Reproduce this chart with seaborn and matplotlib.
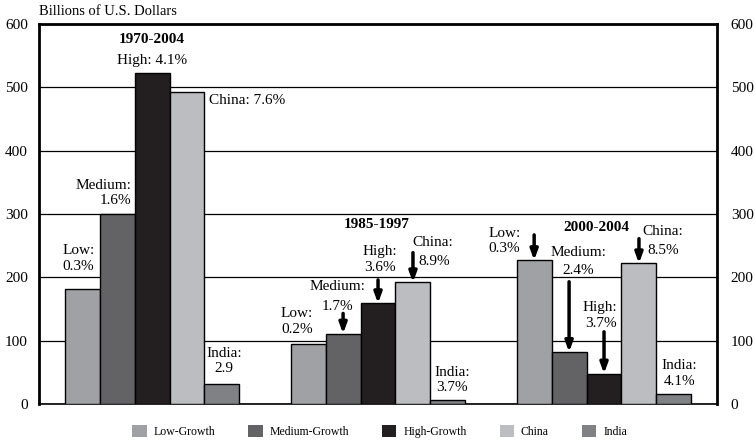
import pandas as pd
import seaborn as sns
import matplotlib.pyplot as plt
from matplotlib.patches import Patch

# data (billions of U.S. dollars)
periods = ["1970-2004", "1985-1997", "2000-2004"]
series = ["Low-Growth", "Medium-Growth", "High-Growth", "China", "India"]
low_growth = [181, 94, 227]
medium_growth = [300, 111, 82]
high_growth = [522, 159, 48]
china = [492, 192, 222]
india = [31, 7, 16]

colors = ["#a0a1a4", "#636366", "#231f20", "#bcbdc0", "#808184"]
yticks = [0, 100, 200, 300, 400, 500, 600]

# labels: (text, x, y, ha)
labels = [
	("High: 4.1%", 0.0, 542, "center"),
	("China: 7.6%", 0.252, 480, "left"),
	("Medium:\n1.6%", -0.09, 333, "right"),
	("Low:\n0.3%", -0.325, 230, "center"),
	("India:\n2.9", 0.319, 68, "center"),
	("High:\n3.6%", 1.01, 228, "center"),
	("China:", 1.151, 255, "left"),
	("8.9%", 1.178, 225, "left"),
	("Medium:", 0.819, 185, "center"),
	("1.7%", 0.819, 154, "center"),
	("Low:\n0.2%", 0.642, 130, "center"),
	("India:\n3.7%", 1.327, 38, "center"),
	("Low:\n0.3%", 1.63, 257, "right"),
	("Medium:", 1.887, 240, "center"),
	("2.4%", 1.887, 211, "center"),
	("High:\n3.7%", 2.058, 140, "right"),
	("China:", 2.169, 272, "left"),
	("8.5%", 2.191, 242, "left"),
	("India:\n4.1%", 2.334, 48, "center"),
]
titles = [("1970-2004", 0.0, 576), ("1985-1997", 0.995, 284), ("2000-2004", 1.965, 278)]

# arrows: (group index, series index, start y)
arrows = [
	(1, 2, 196), (1, 3, 239), (1, 1, 143),
	(2, 0, 267), (2, 1, 193), (2, 2, 114), (2, 3, 261),
]

values = [low_growth, medium_growth, high_growth, china, india]
rows = []
for s, vals in zip(series, values):
	for p, v in zip(periods, vals):
		rows.append({"period": p, "series": s, "value": v})
df = pd.DataFrame(rows)

plt.rcParams['font.family'] = ['Liberation Serif', 'DejaVu Serif']

fig = plt.figure(figsize=(7.55, 4.43), dpi=100)
ax = fig.add_axes([0.0517, 0.088, 0.8980, 0.8578])

bar_width = 0.773
sns.barplot(data=df, x="period", y="value", hue="series", order=periods, hue_order=series,
	palette=colors, width=bar_width, edgecolor="black", linewidth=1, saturation=1,
	legend=False, ax=ax, zorder=3)

ax.set_ylim(0, 600)
ax.set_xlim(-0.5, 2.5)
ax.set_yticks(yticks)
ax.yaxis.grid(True, color="black", linewidth=0.9, zorder=0)
ax.set_axisbelow(True)
ax.set_xticks([])
ax.set_xlabel("")
ax.set_ylabel("")
ax.tick_params(axis="y", length=0, labelsize=11, pad=8, labelright=True)
for t in ax.yaxis.get_major_ticks():
	t.label2.set_horizontalalignment("left")
	t.label2.set_x(1.004)

for side in ["left", "right", "top"]:
	ax.spines[side].set_linewidth(2)
ax.spines["bottom"].set_linewidth(1.2)

for text, x, y, ha in labels:
	ax.text(x, y, text, ha=ha, va="center", fontsize=11, linespacing=1.25, zorder=5)
for text, x, y in titles:
	ax.text(x, y, text, ha="center", va="center", fontsize=11, fontweight="bold", zorder=5)

slot = bar_width / len(series)
for g, i, y0 in arrows:
	x = g + (i - 2) * slot
	ax.annotate("", xy=(x, values[i][g]), xytext=(x, y0),
		arrowprops=dict(arrowstyle="-|>,head_width=0.22,head_length=0.6", lw=2.5,
			color="black", shrinkA=0, shrinkB=0), zorder=5)

fig.text(0.052, 0.975, "Billions of U.S. Dollars", ha="left", va="center", fontsize=10.5)

handles = [Patch(facecolor=c, edgecolor="none", label=s) for c, s in zip(colors, series)]
fig.legend(handles=handles, loc="center", bbox_to_anchor=(0.503, 0.026), ncol=5,
	frameon=False, fontsize=8.5, handlelength=1.2, handleheight=1.2,
	handletextpad=0.6, columnspacing=2.8)

plt.savefig("out.png", dpi=100)
